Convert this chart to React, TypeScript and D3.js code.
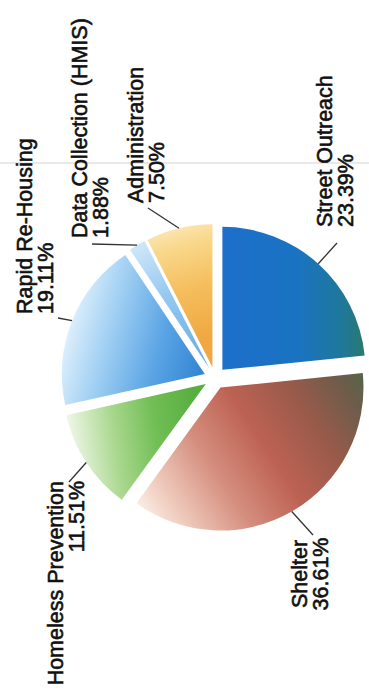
import React from "react";
import * as d3 from "d3";

const categories = ["Street Outreach", "Shelter", "Homeless Prevention", "Rapid Re-Housing", "Data Collection (HMIS)", "Administration"];
const values = [23.39, 36.61, 11.51, 19.11, 1.88, 7.5];
const pctLabels = ["23.39%", "36.61%", "11.51%", "19.11%", "1.88%", "7.50%"];

const W = 369, H = 700;
const CX = 215, CY = 378, R = 143, EXPLODE = 11;
const FONT = 21.5;
const LINE = 21;

// gradient definitions relative to pie centre (userSpaceOnUse)
const gradients = [
  { x1: 0, y1: -60, x2: 150, y2: -60, stops: [["0%", "#1d6fcb"], ["50%", "#1a73c2"], ["80%", "#1f7899"], ["100%", "#2c7a60"]] },
  { x1: -80, y1: 150, x2: 150, y2: 0, stops: [["0%", "#ffffff"], ["14%", "#f2d2c4"], ["36%", "#d58e7e"], ["56%", "#bd6253"], ["76%", "#985a4a"], ["92%", "#6e5c4a"], ["100%", "#586448"]] },
  { x1: -150, y1: 40, x2: -10, y2: 20, stops: [["0%", "#ffffff"], ["15%", "#e0f0d4"], ["40%", "#a9d78e"], ["70%", "#70be54"], ["100%", "#58ae40"]] },
  { x1: -150, y1: -40, x2: -5, y2: 0, stops: [["0%", "#ffffff"], ["10%", "#d8ecfb"], ["35%", "#a0cff3"], ["70%", "#5aa4e4"], ["100%", "#3586d4"]] },
  { x1: -80, y1: -130, x2: -10, y2: -10, stops: [["0%", "#d8ebfa"], ["50%", "#94c8f0"], ["100%", "#6aaee8"]] },
  { x1: -40, y1: -150, x2: -5, y2: -30, stops: [["0%", "#fcecc4"], ["25%", "#f9d78a"], ["60%", "#f5bd5c"], ["100%", "#f0a842"]] },
];

// label layout (screen coords, text rotated -90deg)
const labelLayout = [
  { x: 332, y: 227, anchor: "start", lead: [337, 243] },
  { x: 307, y: 574, anchor: "middle", lead: [313, 535] },
  { x: 63, y: 481, anchor: "end", lead: [69, 482] },
  { x: 32, y: 314, anchor: "start", lead: [58, 318] },
  { x: 87, y: 238, anchor: "start", lead: [92, 244] },
  { x: 143, y: 203, anchor: "start", lead: [148, 208] },
];

export default function App() {
  const pie = d3.pie<number>().value((d) => d).sort(null).startAngle(0).endAngle(2 * Math.PI);
  const arcs = pie(values);
  const arcGen = d3.arc<d3.PieArcDatum<number>>().innerRadius(0).outerRadius(R);

  return (
    <svg width={W} height={H} style={{ display: "block", position: "absolute", left: 0, top: 0, background: "#fff" }}>
      <defs>
        {gradients.map((g, i) => (
          <linearGradient key={i} id={`g${i}`} gradientUnits="userSpaceOnUse" x1={g.x1} y1={g.y1} x2={g.x2} y2={g.y2}>
            {g.stops.map(([o, c], j) => (
              <stop key={j} offset={o} stopColor={c} />
            ))}
          </linearGradient>
        ))}
      </defs>
      <rect width={W} height={H} fill="#fff" />
      <line x1={0} x2={W} y1={163} y2={163} stroke="#e2e2e2" strokeWidth={1.5} />
      <g transform={`translate(${CX},${CY})`}>
        {arcs.map((a, i) => {
          const mid = (a.startAngle + a.endAngle) / 2;
          const dx = Math.sin(mid) * EXPLODE;
          const dy = -Math.cos(mid) * EXPLODE;
          return (
            <g key={i} transform={`translate(${dx},${dy})`}>
              <path d={arcGen(a) || ""} fill={`url(#g${i})`} />
            </g>
          );
        })}
      </g>
      {arcs.map((a, i) => {
        const mid = (a.startAngle + a.endAngle) / 2;
        const ex = CX + Math.sin(mid) * (EXPLODE + R);
        const ey = CY - Math.cos(mid) * (EXPLODE + R);
        const L = labelLayout[i];
        return (
          <line key={"l" + i} x1={L.lead[0]} y1={L.lead[1]} x2={ex} y2={ey} stroke="#333" strokeWidth={1.3} />
        );
      })}
      {categories.map((c, i) => {
        const L = labelLayout[i];
        return (
          <text
            key={"t" + i}
            transform={`translate(${L.x},${L.y}) rotate(-90)`}
            textAnchor={L.anchor}
            fontFamily="'Liberation Sans', Arial, sans-serif"
            fontSize={FONT}
            fill="#111"
            stroke="#111"
            strokeWidth={0.6}
          >
            <tspan x={0} dy={0}>{c}</tspan>
            <tspan x={0} dy={LINE}>{pctLabels[i]}</tspan>
          </text>
        );
      })}
    </svg>
  );
}
